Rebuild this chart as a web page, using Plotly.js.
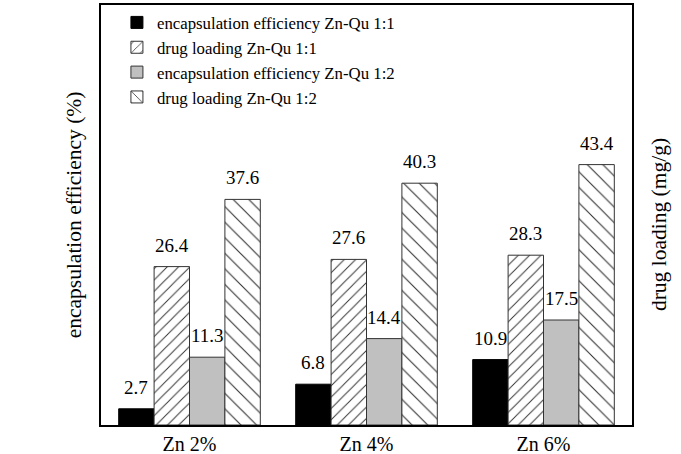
<!DOCTYPE html>
<html>
<head>
<meta charset="utf-8">
<script src="https://cdn.plot.ly/plotly-3.0.1.min.js"></script>
<style>
  html, body { margin: 0; padding: 0; background: #fff; }
  #chart { width: 681px; height: 454px; }
</style>
</head>
<body>
<div id="chart"></div>
<script>
// Zinc content groups
const categories = ['Zn 2%', 'Zn 4%', 'Zn 6%'];

// Series values
const eeRatio11 = [2.7, 6.8, 10.9];   // encapsulation efficiency (%), Zn-Qu 1:1
const dlRatio11 = [26.4, 27.6, 28.3]; // drug loading (mg/g), Zn-Qu 1:1
const eeRatio12 = [11.3, 14.4, 17.5]; // encapsulation efficiency (%), Zn-Qu 1:2
const dlRatio12 = [37.6, 40.3, 43.4]; // drug loading (mg/g), Zn-Qu 1:2

const seriesNames = [
  'encapsulation efficiency Zn-Qu 1:1',
  'drug loading Zn-Qu 1:1',
  'encapsulation efficiency Zn-Qu 1:2',
  'drug loading Zn-Qu 1:2'
];

const FONT = '"Liberation Serif", "Times New Roman", serif';
const EDGE = '#333333';

const seriesValues = [eeRatio11, dlRatio11, eeRatio12, dlRatio12];
const markers = [
  { color: '#000000', line: { color: '#000000', width: 1 } },
  { color: '#ffffff', line: { color: EDGE, width: 1 },
    pattern: { shape: '/', size: 8, solidity: 0.12, fgcolor: EDGE, bgcolor: '#ffffff' } },
  { color: '#c0c0c0', line: { color: EDGE, width: 1 } },
  { color: '#ffffff', line: { color: EDGE, width: 1 },
    pattern: { shape: '\\', size: 11, solidity: 0.1, fgcolor: EDGE, bgcolor: '#ffffff' } }
];

const traces = seriesValues.map((vals, i) => ({
  type: 'bar',
  name: seriesNames[i],
  x: categories,
  y: vals,
  marker: markers[i],
  hoverinfo: 'name+y'
}));

// Value labels above each bar; bar i sits at its slot within the group
const BARGAP = 0.2;
const nSeries = seriesValues.length;
const slot = (1 - BARGAP) / nSeries;
const annotations = [];
seriesValues.forEach((vals, i) => {
  const offset = (i - (nSeries - 1) / 2) * slot;
  vals.forEach((v, j) => {
    annotations.push({
      xref: 'x', yref: 'y',
      x: j + offset, y: v,
      text: v.toFixed(1),
      showarrow: false,
      xanchor: 'center', yanchor: 'bottom',
      yshift: 9,
      font: { family: FONT, size: 19, color: '#000' }
    });
  });
});

// Right-hand title for the drug loading series
annotations.push({
  xref: 'paper', yref: 'paper',
  x: 1, y: 0.476,
  xshift: 27,
  text: 'drug loading (mg/g)',
  textangle: -90,
  showarrow: false,
  xanchor: 'center', yanchor: 'middle',
  font: { family: FONT, size: 21.5, color: '#000' }
});

const layout = {
  width: 681,
  height: 454,
  margin: { l: 101, r: 49, t: 5, b: 29, pad: 0 },
  paper_bgcolor: '#ffffff',
  plot_bgcolor: '#ffffff',
  barmode: 'group',
  bargap: BARGAP,
  bargroupgap: 0,
  font: { family: FONT, color: '#000' },
  showlegend: true,
  legend: {
    x: 0.03, y: 1, xanchor: 'left', yanchor: 'top',
    bgcolor: 'rgba(0,0,0,0)',
    borderwidth: 0,
    font: { family: FONT, size: 16.8, color: '#000' },
    tracegroupgap: 0
  },
  xaxis: {
    type: 'category',
    range: [-0.5, 2.5],
    showline: true, mirror: true,
    linecolor: '#000', linewidth: 2,
    ticks: '',
    showgrid: false,
    zeroline: false,
    tickfont: { family: FONT, size: 20, color: '#000' }
  },
  yaxis: {
    range: [0, 70],
    showline: true, mirror: true,
    linecolor: '#000', linewidth: 2,
    ticks: '',
    showticklabels: false,
    showgrid: false,
    zeroline: false,
    title: {
      text: 'encapsulation efficiency (%)',
      standoff: 11,
      font: { family: FONT, size: 21.5, color: '#000' }
    }
  },
  annotations: annotations
};

Plotly.newPlot('chart', traces, layout, { displayModeBar: false, staticPlot: true });
</script>
</body>
</html>
